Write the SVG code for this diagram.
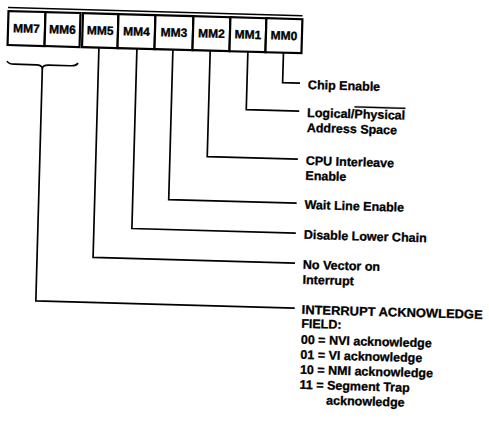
<svg xmlns="http://www.w3.org/2000/svg" width="489" height="426" viewBox="0 0 489 426">
<style>
.box{fill:#fff;stroke:#000;stroke-width:2.2}
.lbl{font-family:"Liberation Sans",Arial,sans-serif;font-weight:bold;font-size:12px;text-anchor:middle;fill:#000;stroke:#000;stroke-width:0.35}
.t{font-family:"Liberation Sans",Arial,sans-serif;font-weight:bold;font-size:12.5px;fill:#000;stroke:#000;stroke-width:0.3}
.c{fill:none;stroke:#000;stroke-width:1.7}
</style>
<rect width="489" height="426" fill="#fff"/>
<g transform="rotate(1.6 8 8)">
<g id="register">
<line x1="8" y1="7.5" x2="302.6" y2="7.5" stroke="#000" stroke-width="1.4"/>
<g id="MM7"><rect class="box" x="8.6" y="11" width="37" height="34"/><text class="lbl" x="27.1" y="32">MM7</text></g>
<g id="MM6"><rect class="box" x="45.6" y="11" width="35" height="34"/><text class="lbl" x="63.1" y="32">MM6</text></g>
<g id="MM5"><rect class="box" x="83.1" y="11" width="35.5" height="34"/><text class="lbl" x="100.8" y="32">MM5</text></g>
<g id="MM4"><rect class="box" x="118.6" y="11" width="37" height="34"/><text class="lbl" x="137.1" y="32">MM4</text></g>
<g id="MM3"><rect class="box" x="155.6" y="11" width="38" height="34"/><text class="lbl" x="174.6" y="32">MM3</text></g>
<g id="MM2"><rect class="box" x="193.6" y="11" width="37" height="34"/><text class="lbl" x="212.1" y="32">MM2</text></g>
<g id="MM1"><rect class="box" x="230.6" y="11" width="36" height="34"/><text class="lbl" x="248.6" y="32">MM1</text></g>
<g id="MM0"><rect class="box" x="266.6" y="11" width="36" height="34"/><text class="lbl" x="284.6" y="32">MM0</text></g>
</g>
<g id="connectors">
<path class="c" d="M284.6 45 V75 H302"/>
<path class="c" d="M249 45 V103 H302"/>
<path class="c" d="M211.3 45 V151 H302"/>
<path class="c" d="M174 45 V195 H302"/>
<path class="c" d="M138 45 V225 H302"/>
<path class="c" d="M100 45 V255 H302"/>
<path class="c" d="M8.5 61 Q10 64 16 64 L38 64 Q43 64 44 67 Q45 64 50 64 L72 64 Q78 64 79.5 61"/>
<path class="c" d="M44 67 V300 H303"/>
</g>
<g id="desc0"><text class="t" x="310" y="80.5">Chip Enable</text></g>
<g id="desc1"><text class="t" x="310" y="108.5">Logical/<tspan text-decoration="overline">Physical</tspan></text><text class="t" x="310" y="123.5">Address Space</text></g>
<g id="desc2"><text class="t" x="310" y="156.5">CPU Interleave</text><text class="t" x="310" y="171.5">Enable</text></g>
<g id="desc3"><text class="t" x="310" y="200.5">Wait Line Enable</text></g>
<g id="desc4"><text class="t" x="310" y="230.5">Disable Lower Chain</text></g>
<g id="desc5"><text class="t" x="310" y="260.5">No Vector on</text><text class="t" x="310" y="275.5">Interrupt</text></g>
<g id="desc67">
<text class="t" x="310" y="305.5" textLength="181" lengthAdjust="spacingAndGlyphs">INTERRUPT ACKNOWLEDGE</text>
<text class="t" x="310" y="319.5">FIELD:</text>
<text class="t" x="310" y="335.5">00 = NVI acknowledge</text>
<text class="t" x="310" y="350.5">01 = VI acknowledge</text>
<text class="t" x="310" y="365.5">10 = NMI acknowledge</text>
<text class="t" x="310" y="380.5">11 = Segment Trap</text>
<text class="t" x="337" y="395.5">acknowledge</text>
</g>
</g>
</svg>
